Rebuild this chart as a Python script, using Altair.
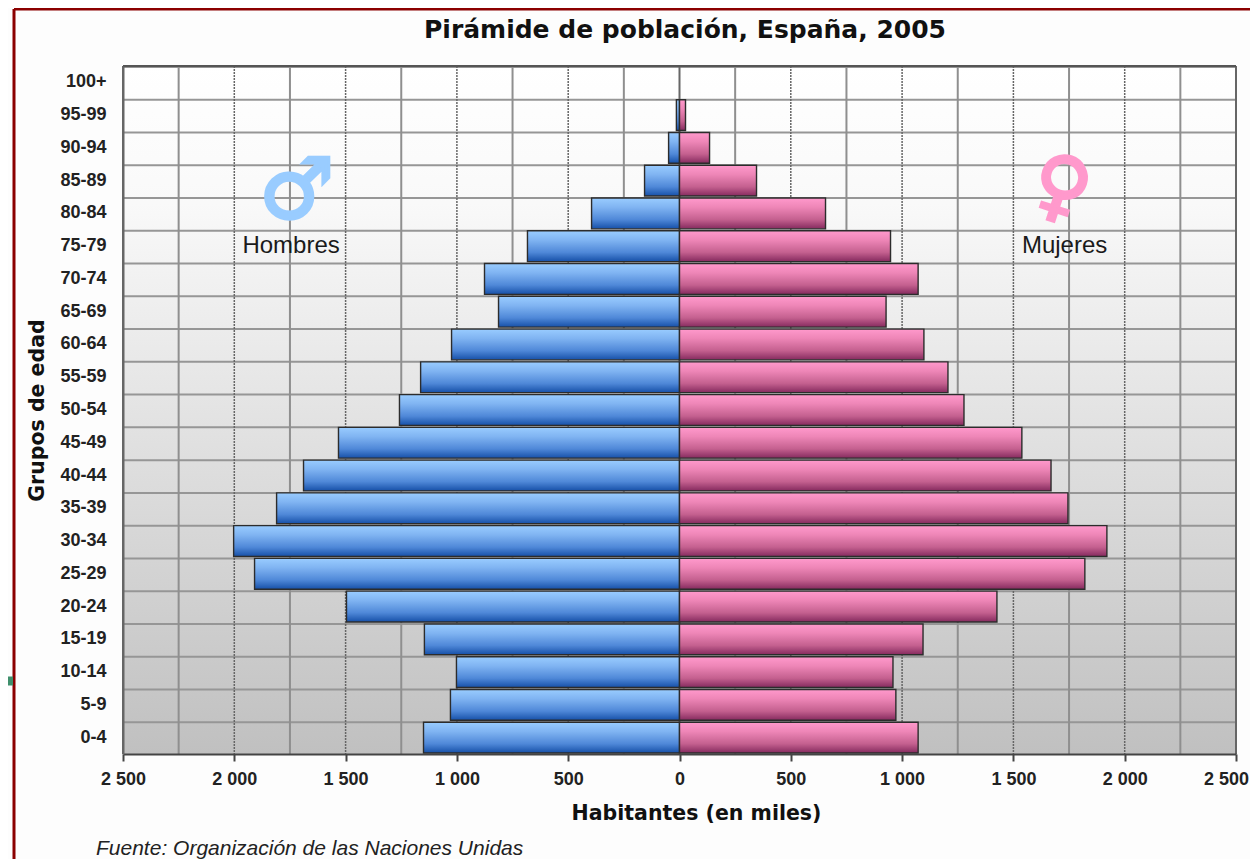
import altair as alt
import pandas as pd

ages = ["100+","95-99","90-94","85-89","80-84","75-79","70-74","65-69","60-64","55-59","50-54",
        "45-49","40-44","35-39","30-34","25-29","20-24","15-19","10-14","5-9","0-4"]
hombres = [0,14,49,157,395,683,876,813,1024,1163,1258,1532,1689,1810,2003,1909,1496,1146,1002,1029,1150]
mujeres = [0,27,135,346,656,948,1072,928,1098,1206,1278,1538,1669,1745,1920,1821,1426,1094,959,972,1072]
minor_ticks = [-2250,-1750,-1250,-750,-250,250,750,1250,1750,2250]
major_ticks = [-2000,-1500,-1000,-500,500,1000,1500,2000]
edge_ticks = [-2500,0,2500]
all_ticks = [-2500,-2000,-1500,-1000,-500,0,500,1000,1500,2000,2500]

W, H = 1113, 688
FONT = "Liberation Sans"
df = pd.DataFrame({"age": ages, "h": [-v for v in hombres], "m": mujeres, "zero": [0]*len(ages)})
df_bars_h = df[df.h != 0]
df_bars_m = df[df.m != 0]

xs = alt.Scale(domain=[-2500, 2500], nice=False, zero=False)
ys = alt.Scale(domain=ages, paddingInner=0.06, paddingOuter=0.03)
x_axis = alt.Axis(
    title="Habitantes (en miles)", titleFont="DejaVu Sans", titleFontSize=20.5, titleFontWeight="bold",
    titleColor="#111111", titlePadding=15, titleX=573, values=all_ticks, grid=False, tickColor="#444444",
    tickSize=7, tickWidth=2, domainColor="#444444", domainWidth=2, zindex=1,
    labelFont=FONT, labelFontSize=18, labelFontWeight="bold", labelColor="#222222", labelPadding=9,
    labelExpr="datum.value == 2500 ? '' : replace(format(abs(datum.value), ','), ',', ' ')",
    labelOverlap=False, labelFlush=False)
y_axis = alt.Axis(
    title="Grupos de edad", titleFont="DejaVu Sans", titleFontSize=20.5, titleFontWeight="bold",
    titleColor="#111111", titlePadding=12, ticks=False, grid=False, domainColor="#666666",
    domainWidth=2, zindex=1,
    labelFont=FONT, labelFontSize=18, labelFontWeight="bold", labelColor="#222222", labelPadding=17)
X = lambda f: alt.X(f, scale=xs, axis=x_axis)
Y = lambda **k: alt.Y("age:N", scale=ys, sort=ages, axis=y_axis, **k)
grad = lambda stops: alt.LinearGradient(gradient="linear", x1=0, x2=0, y1=0, y2=1,
                                         stops=[alt.GradientStop(offset=o, color=c) for o, c in stops])

bg = alt.Chart(pd.DataFrame({"a": [0]})).mark_rect(
    color=grad([(0, "#ffffff"), (0.2, "#f9f9f9"), (1, "#c0c0c0")])
).encode(x=alt.value(0), x2=alt.value(W), y=alt.value(0), y2=alt.value(H))

hgrid = alt.Chart(df).mark_rule(color="#969696", strokeWidth=2).encode(y=Y(bandPosition=0))
vminor = alt.Chart(pd.DataFrame({"v": minor_ticks})).mark_rule(color="#8f8f8f", strokeWidth=2).encode(x=X("v:Q"))
vmajor = alt.Chart(pd.DataFrame({"v": major_ticks})).mark_rule(color="#666666", strokeWidth=1.5, strokeDash=[2, 1]).encode(x=X("v:Q"))
vedge = alt.Chart(pd.DataFrame({"v": edge_ticks})).mark_rule(color="#666666", strokeWidth=2).encode(x=X("v:Q"))
top = alt.Chart(pd.DataFrame({"a": [0]})).mark_rule(color="#555555", strokeWidth=2).encode(
    x=alt.value(0), x2=alt.value(W), y=alt.value(0))

bar_h = alt.Chart(df_bars_h).mark_bar(
    stroke="#2c2c2c", strokeWidth=1.4,
    color=grad([(0, "#99ccff"), (0.3, "#80b4f2"), (0.7, "#4f88d8"), (1, "#1650a8")])
).encode(x=X("h:Q"), x2="zero:Q", y=Y())
bar_m = alt.Chart(df_bars_m).mark_bar(
    stroke="#2c2c2c", strokeWidth=1.4,
    color=grad([(0, "#ff99cc"), (0.3, "#ee86b7"), (0.7, "#c4608f"), (1, "#852a5e")])
).encode(x=X("m:Q"), x2="zero:Q", y=Y())

labels = pd.DataFrame({"t": ["Hombres", "Mujeres"], "x": [-1745, 1730], "age": ["75-79", "75-79"]})
sex_text = alt.Chart(labels).mark_text(font=FONT, fontSize=24, color="#1a1a1a").encode(
    x=X("x:Q"), y=Y(), text="t:N")

symbols_h = alt.Chart(pd.DataFrame({"t": ["\u2642"], "x": [-1720], "age": ["85-89"]})).mark_text(
    font="DejaVu Sans", fontSize=84, fontWeight="bold", color="#99ccff", stroke="#99ccff", strokeWidth=3, dy=12
).encode(x=X("x:Q"), y=Y(), text="t:N")
symbols_m = alt.Chart(pd.DataFrame({"t": ["\u2640"], "x": [1725], "age": ["85-89"]})).mark_text(
    font="DejaVu Sans", fontSize=78, fontWeight="bold", angle=18, color="#ff99cc", stroke="#ff99cc", strokeWidth=3, dy=9
).encode(x=X("x:Q"), y=Y(), text="t:N")

last_label = alt.Chart(pd.DataFrame({"v": [2500], "t": ["2 500"]})).mark_text(
    font=FONT, fontSize=18, fontWeight="bold", color="#222222", align="right", baseline="middle", dx=13
).encode(x=X("v:Q"), y=alt.value(H + 26), text="t:N")

title = alt.Chart(pd.DataFrame({"t": ["Pirámide de población, España, 2005"]})).mark_text(
    font="DejaVu Sans", fontSize=25, fontWeight="bold", color="#111111", align="center", baseline="middle"
).encode(x=alt.value(562), y=alt.value(-36), text="t:N")

source = alt.Chart(pd.DataFrame({"t": ["Fuente: Organización de las Naciones Unidas"]})).mark_text(
    font=FONT, fontSize=21, fontStyle="italic", color="#222222", align="left", baseline="middle"
).encode(x=alt.value(-27), y=alt.value(783), text="t:N")

frame_left = alt.Chart(pd.DataFrame({"a": [0]})).mark_rule(color="#8b0000", strokeWidth=3).encode(
    x=alt.value(-109), y=alt.value(-57), y2=alt.value(805))
frame_top = alt.Chart(pd.DataFrame({"a": [0]})).mark_rule(color="#8b0000", strokeWidth=3).encode(
    x=alt.value(-109), x2=alt.value(1127), y=alt.value(-57))
stub = alt.Chart(pd.DataFrame({"a": [0]})).mark_rule(color="#3f8f6c", strokeWidth=9).encode(
    x=alt.value(-115), x2=alt.value(-110), y=alt.value(615))

chart = alt.layer(
    bg, hgrid, vminor, vmajor, vedge, top, symbols_h, symbols_m, sex_text, bar_h, bar_m,
    last_label, title, source, frame_left, frame_top, stub
).properties(
    width=W, height=H,
    padding={"left": 115, "top": 58, "right": 14, "bottom": 105},
    autosize=alt.AutoSizeParams(type="none"),
    background="#fdfdfd",
).configure_view(stroke=None)

chart.save("out.html", embed_options={"renderer": "svg", "actions": False})
